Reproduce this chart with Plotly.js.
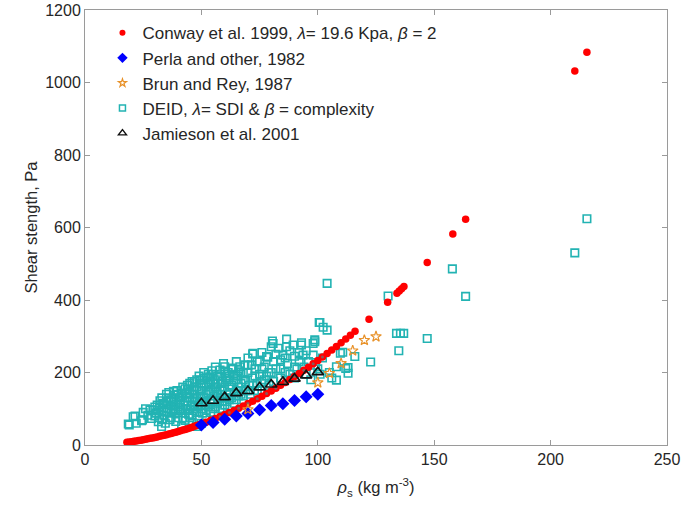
<!DOCTYPE html>
<html>
<head>
<meta charset="utf-8">
<script src="https://cdn.plot.ly/plotly-3.0.1.min.js"></script>
<style>html,body{margin:0;padding:0;background:#fff;}#chart{width:683px;height:514px;}</style>
</head>
<body>
<div id="chart"></div>
<script>
// Conway et al. 1999 (red dots)
const conwayX = [18,19,20,21,22,23,24,25,26,27,28,29,30,31,32,33,34,35,36,37,38,39,40,41,42,43,44,45,46,47,48,49,50,52,54,56,58,60,62,64,66,68,70,72,74,76,78,80,82,84,86,88,90,92,94,96,98,100,102,104,106,108,110,112,114,116,122,130,134,135,136,137,147,158,163.5,210.4,215.6];
const conwayY = [7.6,8.4,9.3,10.3,11.3,12.3,13.4,14.6,15.8,17.0,18.3,19.6,21.0,22.4,23.9,25.4,26.9,28.6,30.2,31.9,33.7,35.5,37.3,39.2,41.1,43.1,45.1,47.2,49.3,51.5,53.7,56.0,58.3,63.0,68.0,73.1,78.4,83.9,89.6,95.5,101.5,107.8,114.2,120.8,127.6,134.6,141.8,149.2,156.7,164.5,172.4,180.5,188.8,197.3,206,214.8,223.9,233.1,242.5,252.1,261.9,271.9,282,292.4,302.9,313.6,347,394,418.5,424.8,431.1,437.5,503.7,581.9,623.1,1031.8,1083.5];
// grey dots seen on top of the red curve
const greyX = [58,62,66,70,74,78,82,86,90,94,98,102];
const greyY = [78.4,89.6,101.5,114.2,127.6,141.8,156.7,172.4,188.8,206,223.9,242.5];
// Perla and other, 1982 (blue diamonds)
const perlaX = [50,55,60,65,70,75,80,85,90,95,100];
const perlaY = [55,62,71,80,87,97,109,114,123,133,140];
// Brun and Rey, 1987 (orange stars)
const brunX = [70,100,105,110,115,120,125];
const brunY = [98,172,198,225,260,289,299];
// Jamieson et al. 2001 (black triangles)
const jamX = [50,55,60,65,70,75,80,85,90,95,100];
const jamY = [115,122,132,143,149,159,167,174,183,192,201];
// DEID (cyan squares)
const deidX = [
18.6,19,20.7,21.5,22,
24.3,24.7,25,26,27,27.9,
28.6,29.3,30,30.5,31,32.2,32.9,32,31.5,
33,33.5,34,35,35.5,36,36.5,37,37,34.5,36,
38.6,38,39,39.5,40,40.5,41,41.5,41.5,42,42,39,40,41,
43,43.5,44,44.3,44.5,45,45,45.5,46,46,46.5,47,47,47.9,43,45,47,
48,48.5,49,49.4,49.5,50,50,50.5,51,51,51.5,52,52,49,52,
53,53.6,54,54,54.5,55,55,55.5,56,56,57,57,54,56.5,
58,58,58.5,59,59.5,60,60,60.5,61,61.5,62,62,59,
63,63.6,64,64,65,65,65.5,66,66.5,67,67,
68.7,68,69,70,70,70.5,71.5,72,72.2,72,71,
73,74,75,75,76,76,77,77,
78,78.5,79,80,80.5,80.8,81,81,82,79,
83,84,85,86.6,86.6,86,87,84,
89.4,90,91,88,92,90,
93,93,93.7,94,95,96,97,
98,98,98.7,98.7,100.6,100.9,102.3,104,100,101,99,102,
104,108,108,109.7,110.7,112,113,113,115.9,105,106,
122.7,130.2,133.8,135.5,136.9,134.8,147,157.8,163.5,210.4,215.6,
30,31,32,33,34,35,35,36,37,38,38,39,40,40,37,33,
41,42,42,43,43,44,44,45,45,46,46,46,47,47,48,48,48,49,49,50,50,50,51,51,52,52,52,53,53,53,
54,54,55,55,55,56,56,57,57,58,58,58,59,59,60,60,60,61,61,62,62,63,63,64,64,65,65,66,66,67,68,68,69,70,70,72,73,74,74,76,76,78,80,82,84,86,88,90,92,95];
const deidY = [
58,55,78,80,60,
67,69,90,100,82,97,
73,97,105,88,110,122,51,75,64,
95,115,82,120,100,130,70,108,88,60,145,
138,120,100,150,90,130,112,143,51,75,160,65,105,95,
120,140,100,154,85,170,130,110,150,62,95,175,125,51,68,75,140,
160,105,190,179,135,120,150,88,200,165,110,140,185,70,95,
170,188,125,150,205,100,180,135,160,215,190,115,90,145,
207,130,170,150,225,216,110,185,140,200,160,125,100,
212,209,175,145,230,125,190,160,216,140,200,
221,180,150,240,200,165,221,251,253,185,140,
210,170,230,195,255,150,215,180,
244,242,200,271,287,280,230,175,210,165,
267,235,248,292,271,200,225,185,
276,245,210,195,230,185,
282,276,248,215,195,230,180,
280,248,285,290,338,338,325,317,210,195,220,240,
446,216,179,253,256,211,214,198,244,200,185,
229,411,308,308,308,260,294,486,410,530,624,
80,95,105,130,112,92,140,118,125,95,148,112,140,75,76,70,
125,100,135,155,88,130,165,95,145,120,175,80,108,160,130,90,180,115,150,100,170,60,130,185,120,160,75,105,145,195,
115,175,155,195,120,105,180,140,170,100,150,190,120,175,130,160,200,120,175,145,190,130,165,115,195,150,180,135,205,170,200,135,175,150,220,165,190,150,230,175,210,190,200,250,210,240,260,215,255,260];

const lam = '<i>λ</i>', bet = '<i>β</i>';
const nameConway = 'Conway et al. 1999, '+lam+'= 19.6 Kpa, '+bet+' = 2';
const namePerla = 'Perla and other, 1982';
const nameBrun = 'Brun and Rey, 1987';
const nameDeid = 'DEID, '+lam+'= SDI & '+bet+' = complexity';
const nameJam = 'Jamieson et al. 2001';

const deidMarker = {symbol:'square-open', size:7.5, color:'#22b3b3', line:{width:1.6}};
const conwayMarker = {symbol:'circle', size:7.5, color:'#ff0000'};
const perlaMarker = {symbol:'diamond', size:10, color:'#0000ff'};
const brunMarker = {symbol:'star-open', size:8, color:'#e8922a', line:{width:1.2}};
const jamMarker = {symbol:'triangle-up-open', size:10, color:'#111111', line:{width:1.6}};

const traces = [
  {x: deidX, y: deidY, type:'scatter', mode:'markers', showlegend:false, marker:deidMarker},
  {x: conwayX, y: conwayY, type:'scatter', mode:'markers', showlegend:false, marker:conwayMarker},
  {x: greyX, y: greyY, type:'scatter', mode:'markers', showlegend:false, hoverinfo:'skip',
   marker:{symbol:'circle', size:3, color:'rgba(110,110,110,0.8)'}},
  {x: perlaX, y: perlaY, type:'scatter', mode:'markers', showlegend:false, marker:perlaMarker},
  {x: brunX, y: brunY, type:'scatter', mode:'markers', showlegend:false, marker:brunMarker},
  {x: jamX, y: jamY, type:'scatter', mode:'markers', showlegend:false, marker:jamMarker},
  // legend entries (small symbols, as in the reference legend)
  {x:[null], y:[null], type:'scatter', mode:'markers', name:nameConway, legendrank:1,
   marker:{symbol:'circle', size:6, color:'#ff0000'}},
  {x:[null], y:[null], type:'scatter', mode:'markers', name:namePerla, legendrank:2,
   marker:{symbol:'diamond', size:8, color:'#0000ff'}},
  {x:[null], y:[null], type:'scatter', mode:'markers', name:nameBrun, legendrank:3,
   marker:{symbol:'star-open', size:6, color:'#e8922a', line:{width:1.2}}},
  {x:[null], y:[null], type:'scatter', mode:'markers', name:nameDeid, legendrank:4,
   marker:{symbol:'square-open', size:6, color:'#22b3b3', line:{width:1.5}}},
  {x:[null], y:[null], type:'scatter', mode:'markers', name:nameJam, legendrank:5,
   marker:{symbol:'triangle-up-open', size:7, color:'#111111', line:{width:1.4}}}
];

const axisCommon = {
  showgrid:false, zeroline:false, showline:true, mirror:'ticks',
  linecolor:'#9a9a9a', linewidth:1, ticks:'inside', ticklen:5, tickcolor:'#9a9a9a',
  tickfont:{family:'Liberation Sans, Arial, sans-serif', size:16, color:'#262626'}
};
const layout = {
  width:683, height:514,
  margin:{l:85, r:16, t:10, b:69},
  paper_bgcolor:'#fff', plot_bgcolor:'#fff',
  font:{family:'Liberation Sans, Arial, sans-serif', color:'#262626'},
  showlegend:true,
  legend:{x:0.03, y:0.988, xanchor:'left', yanchor:'top', bgcolor:'rgba(0,0,0,0)', borderwidth:0,
          font:{size:17, color:'#262626'}, tracegroupgap:0, itemwidth:30},
  xaxis: Object.assign({}, axisCommon, {range:[0,250], dtick:50, tick0:0,
          title:{text:'<i>ρ</i><sub>s</sub> (kg m<sup>-3</sup>)', font:{size:16.5, color:'#262626'}, standoff:14}}),
  yaxis: Object.assign({}, axisCommon, {range:[0,1200], dtick:200, tick0:0,
          title:{text:'Shear stength, Pa', font:{size:16.5, color:'#262626'}, standoff:3}})
};
Plotly.newPlot('chart', traces, layout, {displayModeBar:false, staticPlot:true});
</script>
</body>
</html>
